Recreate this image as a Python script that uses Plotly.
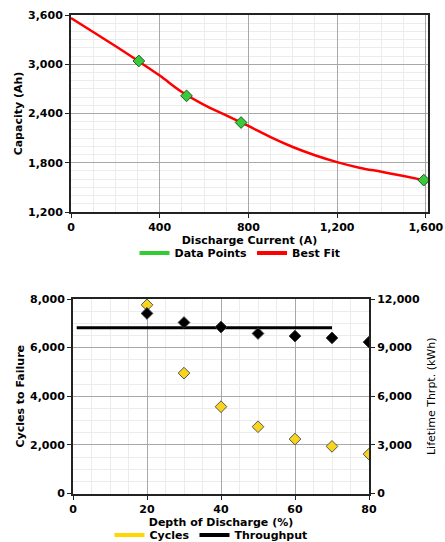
import plotly.graph_objects as go

# ---- Top chart data ----
current_pts = [306, 521, 767, 1591]
capacity_pts = [3040, 2615, 2290, 1588]
fit_current = [0, 100, 200, 300, 400, 500, 600, 700, 800, 900, 1000, 1100, 1200, 1300, 1400, 1500, 1590]
fit_capacity = [3563, 3393, 3222, 3045, 2862, 2662, 2505, 2378, 2248, 2112, 1992, 1892, 1808, 1740, 1690, 1638, 1588]
cap_ticks = [1200, 1800, 2400, 3000, 3600]
cur_ticks = [0, 400, 800, 1200, 1600]

# ---- Bottom chart data ----
dod = [20, 30, 40, 50, 60, 70, 80]
cycles = [7760, 4950, 3570, 2746, 2239, 1938, 1620]
throughput = [11110, 10550, 10270, 9870, 9710, 9600, 9340]
avg_x = [1, 70]
avg_thr = [10225, 10225]

W, H = 445, 542
FONT = "DejaVu Sans"
tickfont = dict(family=FONT, size=11, color="black", weight="bold")

def px_x(a, b):
    return [a / W, b / W]

def px_y(top, bottom):
    return [(H - bottom) / H, (H - top) / H]

fig = go.Figure()

# Top traces
fig.add_trace(go.Scatter(x=fit_current, y=fit_capacity, mode="lines",
                         line=dict(color="#ff0000", width=2.5, shape="spline", smoothing=1.0),
                         name="Best Fit", showlegend=False, xaxis="x", yaxis="y"))
fig.add_trace(go.Scatter(x=current_pts, y=capacity_pts, mode="markers",
                         marker=dict(symbol="diamond", size=9, color="#3cc83c", line=dict(color="#1c5e1c", width=1)),
                         name="Data Points", showlegend=False, xaxis="x", yaxis="y"))
fig.add_trace(go.Scatter(x=[None], y=[None], mode="lines", line=dict(color="#33cc33", width=4),
                         name="Data Points", legend="legend", xaxis="x", yaxis="y"))
fig.add_trace(go.Scatter(x=[None], y=[None], mode="lines", line=dict(color="#ff0000", width=4),
                         name="Best Fit", legend="legend", xaxis="x", yaxis="y"))

# Bottom traces
fig.add_trace(go.Scatter(x=avg_x, y=avg_thr, mode="lines", line=dict(color="black", width=3),
                         showlegend=False, xaxis="x2", yaxis="y3"))
fig.add_trace(go.Scatter(x=dod, y=throughput, mode="markers",
                         marker=dict(symbol="diamond", size=9, color="black", line=dict(color="#333", width=1)),
                         showlegend=False, xaxis="x2", yaxis="y3"))
fig.add_trace(go.Scatter(x=dod, y=cycles, mode="markers",
                         marker=dict(symbol="diamond", size=9, color="#f7d51c", line=dict(color="#555", width=1)),
                         showlegend=False, xaxis="x2", yaxis="y2"))
fig.add_trace(go.Scatter(x=[None], y=[None], mode="lines", line=dict(color="#ffd700", width=4),
                         name="Cycles", legend="legend2", xaxis="x2", yaxis="y2"))
fig.add_trace(go.Scatter(x=[None], y=[None], mode="lines", line=dict(color="black", width=4),
                         name="Throughput", legend="legend2", xaxis="x2", yaxis="y2"))

common = dict(showline=True, linecolor="#222", linewidth=2, mirror=True, ticks="outside", ticklen=4,
              tickcolor="#222", showgrid=True, gridcolor="#a8a8a8", gridwidth=1, zeroline=False,
              tickfont=tickfont, tickformat=",", automargin=False)

titlefont = dict(family=FONT, size=11, color="black", weight="bold")
legfont = dict(family=FONT, size=11, color="black", weight="bold")

fig.update_layout(
    width=W, height=H, margin=dict(l=0, r=0, t=0, b=0, autoexpand=False),
    paper_bgcolor="white", plot_bgcolor="white",
    font=dict(family=FONT, size=11, color="black"),
    xaxis=dict(domain=px_x(71, 428), anchor="y", range=[0, 1610], tickvals=cur_ticks,
               minor=dict(dtick=100, showgrid=True, gridcolor="#ececec", ticks=""),
               title=dict(text="Discharge Current (A)", standoff=0, font=titlefont), **common),
    yaxis=dict(domain=px_y(15, 212), anchor="x", range=[1200, 3600], tickvals=cap_ticks,
               minor=dict(dtick=100, showgrid=True, gridcolor="#ececec", ticks=""),
               title=dict(text="Capacity (Ah)", standoff=3, font=titlefont), **common),
    xaxis2=dict(domain=px_x(73, 369), anchor="y2", range=[0, 80], dtick=20,
                minor=dict(dtick=5, showgrid=True, gridcolor="#ececec", ticks=""),
                title=dict(text="Depth of Discharge (%)", standoff=0, font=titlefont), **common),
    yaxis2=dict(domain=px_y(299, 493.5), anchor="x2", range=[0, 8000], dtick=2000,
                minor=dict(dtick=500, showgrid=True, gridcolor="#ececec", ticks=""),
                title=dict(text="Cycles to Failure", standoff=3, font=titlefont), **common),
    yaxis3=dict(overlaying="y2", anchor="x2", side="right", range=[0, 12000], dtick=3000,
                showgrid=False, showline=True, linecolor="#222", linewidth=2, ticks="outside", ticklen=4,
                tickcolor="#222", zeroline=False, tickfont=tickfont, tickformat=",", automargin=False,
                title=dict(text="Lifetime Thrpt. (kWh)", standoff=8, font=dict(family=FONT, size=11, color="black"))),
    legend=dict(orientation="h", x=240 / W, xanchor="center", y=1 - 253 / H, yanchor="middle",
                font=legfont, bgcolor="rgba(0,0,0,0)", itemwidth=30, tracegroupgap=0),
    legend2=dict(orientation="h", x=211 / W, xanchor="center", y=1 - 535 / H, yanchor="middle",
                 font=legfont, bgcolor="rgba(0,0,0,0)", itemwidth=30, tracegroupgap=0),
)

fig.write_html("out.html")
